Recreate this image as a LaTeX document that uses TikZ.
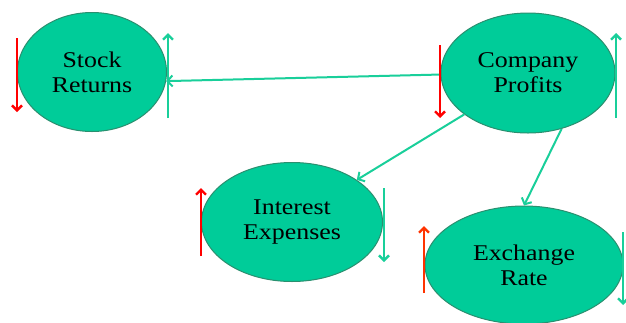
\documentclass[tikz,border=0pt]{standalone}
\usepackage{fontspec}
\setmainfont{Liberation Serif}
\newfontfamily\lab[FakeStretch=1.15]{Liberation Serif}
\usetikzlibrary{shapes.geometric,arrows.meta}
\definecolor{nodefill}{HTML}{00CC99}
\definecolor{nodeedge}{HTML}{2A8F6F}
\definecolor{grn}{HTML}{19CF9A}
\definecolor{rd}{HTML}{FF0000}
\definecolor{orr}{HTML}{FF3300}
\tikzset{
  bubble/.style={ellipse, draw=nodeedge, line width=1pt, fill=nodefill, inner sep=0pt,
    align=center, font=\lab\fontsize{22.5}{25}\selectfont},
  link/.style={draw=grn, line width=2pt, -{Straight Barb[length=5pt,width=11pt,line width=2pt]}},
  ind/.style={line width=2.6pt, -{Straight Barb[length=5pt,width=10pt,line width=2.4pt]}},
}
\begin{document}
\begin{tikzpicture}[x=1pt,y=-1pt]
\useasboundingbox[fill=white] (0,0) rectangle (626,322);
\node[bubble, minimum width=149pt, minimum height=119pt] (sr) at (92,72) {Stock\\Returns};
\node[bubble, minimum width=174pt, minimum height=120pt] (cp) at (528,73) {Company\\Profits};
\node[bubble, minimum width=181pt, minimum height=119pt] (ie) at (292,222) {Interest\\Expenses};
\node[bubble, minimum width=198pt, minimum height=118pt] (er) at (524,265) {Exchange\\Rate};
% connectors
\draw[link] (cp.181.5) -- (sr.-7);
\draw[link] (cp.213.7) -- (ie.33);
\draw[link] (cp.301) -- (er.north);
% indicator arrows
\coordinate (a1) at (17,38);  \coordinate (b1) at (17,112);
\coordinate (a2) at (168,118); \coordinate (b2) at (168,33);
\coordinate (a3) at (440,45); \coordinate (b3) at (440,118);
\coordinate (a4) at (616,118); \coordinate (b4) at (616,33);
\coordinate (a5) at (201,256); \coordinate (b5) at (201,188);
\coordinate (a6) at (384,188); \coordinate (b6) at (384,262);
\coordinate (a7) at (424,293); \coordinate (b7) at (424,226);
\coordinate (a8) at (623,232); \coordinate (b8) at (623,305);
\draw[ind, draw=rd] (a1) -- (b1);
\draw[ind, draw=grn] (a2) -- (b2);
\draw[ind, draw=rd] (a3) -- (b3);
\draw[ind, draw=grn] (a4) -- (b4);
\draw[ind, draw=rd] (a5) -- (b5);
\draw[ind, draw=grn] (a6) -- (b6);
\draw[ind, draw=orr] (a7) -- (b7);
\draw[ind, draw=grn] (a8) -- (b8);
\end{tikzpicture}
\end{document}
